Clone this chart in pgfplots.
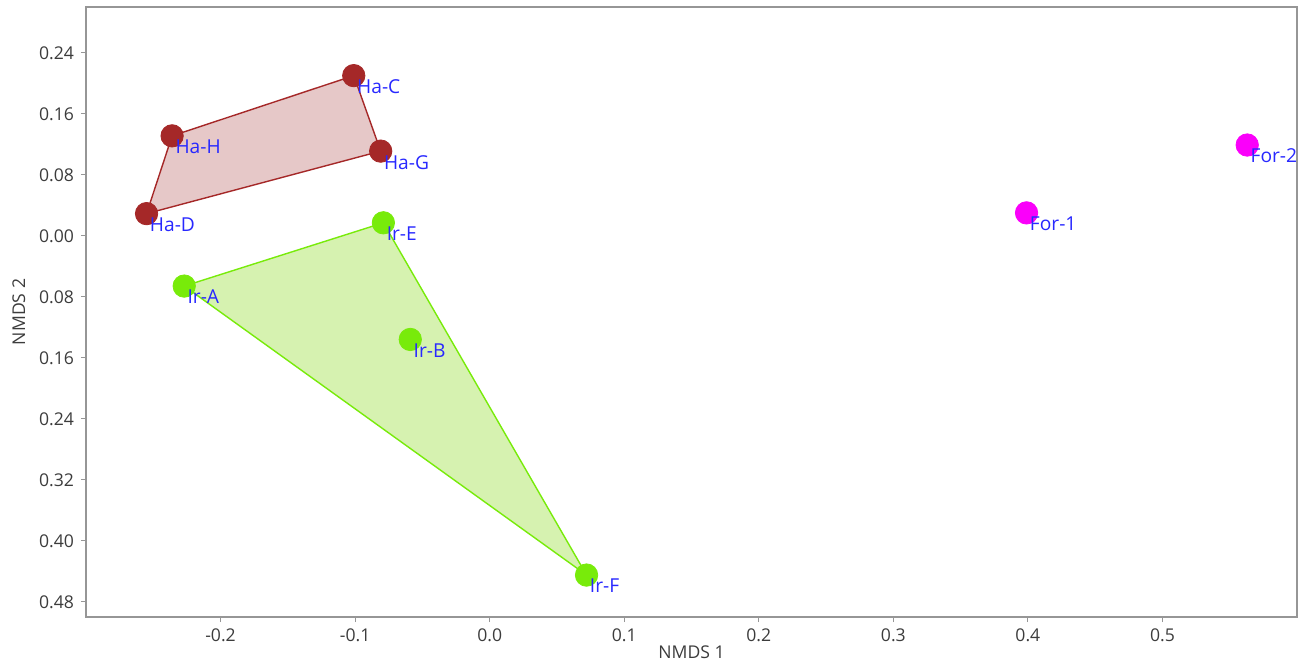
\documentclass[border=0pt]{standalone}
\usepackage{pgfplots}
\pgfplotsset{compat=1.18}
\usepackage{fontspec}
\setmainfont{Open Sans}
\definecolor{haline}{RGB}{165,40,40}
\definecolor{hafill}{RGB}{230,200,200}
\definecolor{irline}{RGB}{120,235,10}
\definecolor{irfill}{RGB}{214,242,176}
\definecolor{formag}{RGB}{250,0,250}
\definecolor{lblblue}{RGB}{40,40,255}
\definecolor{tickgray}{RGB}{60,60,60}
\definecolor{framegray}{RGB}{150,150,150}
\begin{document}
\begin{tikzpicture}
\begin{axis}[
  scale only axis,
  width=605.5pt, height=305pt,
  xmin=-0.3, xmax=0.6, ymin=-0.5, ymax=0.3,
  xtick={-0.2,-0.1,0,0.1,0.2,0.3,0.4,0.5},
  xticklabels={-0.2,-0.1,0.0,0.1,0.2,0.3,0.4,0.5},
  ytick={-0.48,-0.40,-0.32,-0.24,-0.16,-0.08,0,0.08,0.16,0.24},
  yticklabels={0.48,0.40,0.32,0.24,0.16,0.08,0.00,0.08,0.16,0.24},
  xtick pos=left, ytick pos=left, tick align=outside,
  major tick length=2.5pt,
  axis line style={framegray, line width=0.8pt},
  every tick/.style={framegray, line width=0.5pt},
  tick label style={font=\fontsize{8.8}{10}\selectfont, text=tickgray},
  label style={font=\fontsize{8.8}{10}\selectfont, text=tickgray},
  xlabel={NMDS 1}, ylabel={NMDS 2},
  xlabel style={yshift=5pt},
  ylabel style={yshift=0pt},
  /pgf/number format/assume math mode=true,
  clip=false,
]
% hulls
\addplot[draw=haline, fill=hafill, line width=0.7pt] table {
x y
-0.255 0.029
-0.236 0.131
-0.101 0.210
-0.081 0.111
} -- cycle;
\addplot[draw=irline, fill=irfill, line width=0.7pt] table {
x y
-0.227 -0.066
-0.079 0.017
0.072 -0.445
} -- cycle;
% points
\addplot[only marks, mark=*, mark size=5.6pt, mark options={fill=haline, draw=haline},
  point meta=explicit symbolic, nodes near coords,
  every node near coord/.style={anchor=north west, inner sep=0pt, xshift=1.5pt, yshift=-1.8pt, text=lblblue, font=\fontsize{9.6}{11}\selectfont}]
table[meta=lab] {
x y lab
-0.101 0.210 Ha-C
-0.236 0.131 Ha-H
-0.081 0.111 Ha-G
-0.255 0.029 Ha-D
};
\addplot[only marks, mark=*, mark size=5.6pt, mark options={fill=irline, draw=irline},
  point meta=explicit symbolic, nodes near coords,
  every node near coord/.style={anchor=north west, inner sep=0pt, xshift=1.5pt, yshift=-1.8pt, text=lblblue, font=\fontsize{9.6}{11}\selectfont}]
table[meta=lab] {
x y lab
-0.079 0.017 Ir-E
-0.227 -0.066 Ir-A
-0.059 -0.136 Ir-B
0.072 -0.445 Ir-F
};
\addplot[only marks, mark=*, mark size=5.6pt, mark options={fill=formag, draw=formag},
  point meta=explicit symbolic, nodes near coords,
  every node near coord/.style={anchor=north west, inner sep=0pt, xshift=1.5pt, yshift=-1.8pt, text=lblblue, font=\fontsize{9.6}{11}\selectfont}]
table[meta=lab] {
x y lab
0.399 0.030 For-1
0.563 0.119 For-2
};
\end{axis}
\pgfresetboundingbox
\path[use as bounding box] (-43pt,-23.5pt) rectangle (612.5pt,308.5pt);
\end{tikzpicture}
\end{document}
